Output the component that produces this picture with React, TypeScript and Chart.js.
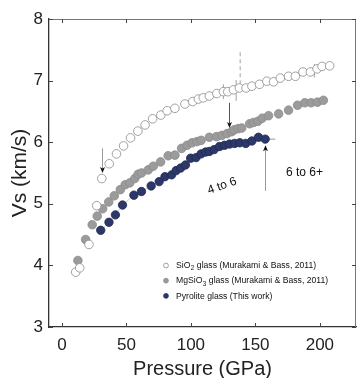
import React, { useEffect, useRef } from "react";
import { Chart, registerables } from "chart.js";

Chart.register(...registerables);

// ---------- data ----------
const xTicks = [0, 50, 100, 150, 200];
const yTicks = [3, 4, 5, 6, 7, 8];

const pSiO2 = [10.7, 13.8, 21.0, 27.0, 30.9, 36.7, 42.3, 47.8, 53.2, 58.9, 64.5, 70.3, 76.7, 81.6, 87.6, 95.4, 101.4, 105.8, 109.6, 114.3, 120.1, 125.2, 128.6, 133.0, 137.6, 142.8, 147.3, 153.2, 158.9, 164.1, 169.3, 175.7, 181.0, 186.9, 192.6, 197.8, 201.7, 207.6];
const vSiO2 = [3.89, 3.96, 4.34, 4.97, 5.41, 5.65, 5.81, 5.94, 6.07, 6.18, 6.28, 6.38, 6.44, 6.51, 6.55, 6.62, 6.66, 6.70, 6.72, 6.75, 6.79, 6.82, 6.82, 6.85, 6.88, 6.88, 6.91, 6.94, 6.99, 6.98, 7.04, 7.07, 7.07, 7.14, 7.14, 7.19, 7.23, 7.24];

const pMgSiO3 = [12.4, 18.4, 23.5, 27.4, 31.6, 36.3, 40.6, 45.3, 49.1, 52.6, 56.5, 59.1, 61.7, 66.9, 70.8, 76.5, 82.4, 87.6, 92.8, 97.0, 100.9, 104.7, 107.9, 114.3, 119.9, 124.0, 128.1, 131.6, 133.5, 136.6, 139.4, 145.6, 148.5, 152.0, 155.3, 160.2, 168.0, 175.7, 182.7, 188.3, 193.2, 198.1, 202.7];
const vMgSiO3 = [4.08, 4.42, 4.66, 4.80, 4.92, 5.03, 5.13, 5.23, 5.31, 5.34, 5.41, 5.48, 5.50, 5.55, 5.61, 5.68, 5.78, 5.79, 5.90, 5.95, 5.99, 6.01, 6.03, 6.08, 6.09, 6.11, 6.14, 6.17, 6.20, 6.22, 6.23, 6.30, 6.32, 6.34, 6.39, 6.43, 6.46, 6.52, 6.60, 6.64, 6.64, 6.65, 6.68];

const pPyro = [30.1, 36.5, 41.5, 47.0, 55.8, 61.7, 69.2, 75.4, 79.9, 85.1, 88.6, 92.1, 95.8, 99.8, 104.0, 107.9, 111.4, 114.3, 118.0, 122.2, 126.1, 130.0, 133.9, 137.9, 142.5, 147.3, 152.4, 157.6];
const vPyro = [4.57, 4.70, 4.82, 4.98, 5.14, 5.20, 5.29, 5.36, 5.44, 5.47, 5.54, 5.58, 5.63, 5.74, 5.75, 5.81, 5.84, 5.85, 5.88, 5.93, 5.95, 5.97, 5.98, 5.99, 5.98, 6.02, 6.08, 6.05];

// vertical error bars (SiO2)
const errP = [125.2, 135.1, 195.7];
const errV = [6.82, 6.84, 7.16];
const errD = [0.12, 0.17, 0.11];
// dashed error bar
const dashP = [138.2];
const dashTop = [7.46];
const dashBottom = [6.95];
// horizontal error bar (pyrolite last point)
const hErrP = [157.6];
const hErrV = [6.05];
const hErrD = [7.8];

// arrows: x, from, to (tip)
const arrowP = [31.0, 129.9, 157.6];
const arrowFrom = [5.9, 6.64, 5.21];
const arrowTo = [5.5, 6.23, 5.95];

// annotation texts
const noteText = ["4 to 6", "6 to 6+"];
const noteP = [124.2, 188.0];
const noteV = [5.29, 5.5];
const noteAngle = [-19, 0];

// legend
const legMain = ["SiO", "MgSiO", "Pyrolite glass (This work)"];
const legSub = ["2", "3", ""];
const legRest = [" glass (Murakami & Bass, 2011)", " glass (Murakami & Bass, 2011)", ""];

const FONT = "'Liberation Sans', Arial, Helvetica, sans-serif";
const NAVY = "#2b3868";
const GRAY = "#9b9b9b";
const OPEN_BORDER = "#8a8a8a";

const legFill = ["#ffffff", GRAY, NAVY];
const legBorder = [OPEN_BORDER, "#8a8a8a", "#1f2a55"];

const toPts = (xs: number[], ys: number[]) => xs.map((x, i) => ({ x, y: ys[i] }));

const decorPlugin = {
  id: "decor",
  beforeDatasetsDraw(chart: any) {
    const { ctx, scales } = chart;
    const xs = scales.x, ys = scales.y;
    ctx.save();
    ctx.strokeStyle = "#8a8a8a";
    ctx.lineWidth = 0.8;
    for (let i = 0; i < errP.length; i++) {
      const x = xs.getPixelForValue(errP[i]);
      ctx.beginPath();
      ctx.moveTo(x, ys.getPixelForValue(errV[i] + errD[i]));
      ctx.lineTo(x, ys.getPixelForValue(errV[i] - errD[i]));
      ctx.stroke();
    }
    ctx.setLineDash([4, 3]);
    for (let i = 0; i < dashP.length; i++) {
      const x = xs.getPixelForValue(dashP[i]);
      ctx.beginPath();
      ctx.moveTo(x, ys.getPixelForValue(dashTop[i]));
      ctx.lineTo(x, ys.getPixelForValue(dashBottom[i]));
      ctx.stroke();
    }
    ctx.setLineDash([]);
    ctx.strokeStyle = "#777";
    for (let i = 0; i < hErrP.length; i++) {
      const y = ys.getPixelForValue(hErrV[i]);
      ctx.beginPath();
      ctx.moveTo(xs.getPixelForValue(hErrP[i] - hErrD[i]), y);
      ctx.lineTo(xs.getPixelForValue(hErrP[i] + hErrD[i]), y);
      ctx.stroke();
    }
    ctx.restore();
  },
  afterDatasetsDraw(chart: any) {
    const { ctx, scales, chartArea } = chart;
    const xs = scales.x, ys = scales.y;
    ctx.save();
    // arrows
    for (let i = 0; i < arrowP.length; i++) {
      const x = Math.round(xs.getPixelForValue(arrowP[i])) + 0.5;
      const y0 = ys.getPixelForValue(arrowFrom[i]);
      const y1 = ys.getPixelForValue(arrowTo[i]);
      const dir = y1 > y0 ? 1 : -1;
      ctx.strokeStyle = i === 1 ? "#555" : "#999";
      ctx.lineWidth = 1;
      ctx.beginPath();
      ctx.moveTo(x, y0);
      ctx.lineTo(x, y1 - dir * 4);
      ctx.stroke();
      ctx.fillStyle = "#111";
      ctx.beginPath();
      ctx.moveTo(x, y1);
      ctx.lineTo(x - 2.5, y1 - dir * 6);
      ctx.lineTo(x, y1 - dir * 4.5);
      ctx.lineTo(x + 2.5, y1 - dir * 6);
      ctx.closePath();
      ctx.fill();
    }
    // notes
    ctx.fillStyle = "#111";
    ctx.textAlign = "center";
    ctx.textBaseline = "middle";
    for (let i = 0; i < noteText.length; i++) {
      ctx.save();
      ctx.translate(xs.getPixelForValue(noteP[i]), ys.getPixelForValue(noteV[i]));
      ctx.rotate((noteAngle[i] * Math.PI) / 180);
      ctx.font = `12px ${FONT}`;
      ctx.fillText(noteText[i], 0, 0);
      ctx.restore();
    }
    // legend
    const lx = chartArea.left + 117;
    const tx = chartArea.left + 127;
    const ly0 = chartArea.top + 246.5;
    const dy = 15.2;
    ctx.textAlign = "left";
    ctx.textBaseline = "middle";
    for (let i = 0; i < legMain.length; i++) {
      const y = ly0 + i * dy;
      ctx.beginPath();
      ctx.arc(lx, y, 2.4, 0, Math.PI * 2);
      ctx.fillStyle = legFill[i];
      ctx.fill();
      ctx.strokeStyle = legBorder[i];
      ctx.lineWidth = 0.8;
      ctx.stroke();
      ctx.save();
      ctx.translate(tx, y);
      ctx.scale(0.9, 1);
      ctx.fillStyle = "#111";
      ctx.font = `9.6px ${FONT}`;
      let cx = 0;
      ctx.fillText(legMain[i], cx, 0);
      cx += ctx.measureText(legMain[i]).width;
      if (legSub[i]) {
        ctx.font = `7px ${FONT}`;
        ctx.fillText(legSub[i], cx + 0.3, 3);
        cx += ctx.measureText(legSub[i]).width + 0.6;
        ctx.font = `9.6px ${FONT}`;
      }
      if (legRest[i]) ctx.fillText(legRest[i], cx, 0);
      ctx.restore();
    }
    ctx.restore();
  },
  afterDraw(chart: any) {
    const { ctx, scales, chartArea } = chart;
    const xs = scales.x, ys = scales.y;
    const { left, right, top, bottom } = chartArea;
    ctx.save();
    // top & right frame
    ctx.strokeStyle = "#777";
    ctx.lineWidth = 1;
    ctx.beginPath();
    ctx.moveTo(left, top + 0.5);
    ctx.lineTo(right, top + 0.5);
    ctx.moveTo(right - 0.5, top);
    ctx.lineTo(right - 0.5, bottom);
    ctx.stroke();
    // inward ticks
    ctx.strokeStyle = "#444";
    ctx.beginPath();
    for (const t of xTicks) {
      const x = Math.round(xs.getPixelForValue(t)) + 0.5;
      ctx.moveTo(x, bottom);
      ctx.lineTo(x, bottom - 4);
      ctx.moveTo(x, top);
      ctx.lineTo(x, top + 4);
    }
    for (const t of yTicks) {
      const y = Math.round(ys.getPixelForValue(t)) + 0.5;
      ctx.moveTo(left, y);
      ctx.lineTo(left + 4, y);
      ctx.moveTo(right, y);
      ctx.lineTo(right - 4, y);
    }
    ctx.stroke();
    ctx.restore();
  },
};

export default function App() {
  const ref = useRef<HTMLCanvasElement | null>(null);
  useEffect(() => {
    if (!ref.current) return;
    const chart = new Chart(ref.current, {
      type: "scatter",
      data: {
        datasets: [
          {
            label: "SiO2 glass (Murakami & Bass, 2011)",
            data: toPts(pSiO2, vSiO2),
            pointRadius: 4.3,
            pointBackgroundColor: "#ffffff",
            pointBorderColor: OPEN_BORDER,
            pointBorderWidth: 0.8,
          },
          {
            label: "MgSiO3 glass (Murakami & Bass, 2011)",
            data: toPts(pMgSiO3, vMgSiO3),
            pointRadius: 4.3,
            pointBackgroundColor: GRAY,
            pointBorderColor: "#8a8a8a",
            pointBorderWidth: 0.8,
          },
          {
            label: "Pyrolite glass (This work)",
            data: toPts(pPyro, vPyro),
            pointRadius: 4.2,
            pointBackgroundColor: NAVY,
            pointBorderColor: "#1f2a55",
            pointBorderWidth: 0.8,
            showLine: true,
            borderColor: "rgba(150,150,150,0.7)",
            borderWidth: 0.7,
          },
        ],
      },
      options: {
        animation: false,
        responsive: false,
        devicePixelRatio: 1,
        layout: { autoPadding: false, padding: { top: 19, right: 1, left: 0, bottom: 0 } },
        plugins: { legend: { display: false }, tooltip: { enabled: false } },
        scales: {
          x: {
            type: "linear",
            min: -10,
            max: 228,
            afterBuildTicks: (s: any) => {
              s.ticks = xTicks.map((v) => ({ value: v }));
            },
            afterFit: (s: any) => {
              s.height = 51;
            },
            grid: { display: false, drawTicks: false },
            border: { display: true, color: "#333", width: 1.3 },
            ticks: { font: { size: 17, family: FONT }, color: "#222", padding: 8, maxRotation: 0 },
            title: {
              display: true,
              text: "Pressure (GPa)",
              font: { size: 20, family: FONT },
              color: "#222",
              padding: { top: 0, bottom: -3 },
            },
          },
          y: {
            type: "linear",
            min: 3,
            max: 8,
            afterBuildTicks: (s: any) => {
              s.ticks = yTicks.map((v) => ({ value: v }));
            },
            afterFit: (s: any) => {
              s.width = 49;
            },
            grid: { display: false, drawTicks: false },
            border: { display: true, color: "#333", width: 1.3 },
            ticks: { font: { size: 17, family: FONT }, color: "#222", padding: 6 },
            title: {
              display: true,
              text: "Vs (km/s)",
              font: { size: 21, family: FONT },
              color: "#222",
              padding: { top: 8, bottom: 0 },
            },
          },
        },
      },
      plugins: [decorPlugin],
    });
    return () => chart.destroy();
  }, []);
  return (
    <div style={{ position: "absolute", left: 0, top: 0, width: 357, height: 378, background: "#fff" }}>
      <canvas ref={ref} width={357} height={378} />
    </div>
  );
}
